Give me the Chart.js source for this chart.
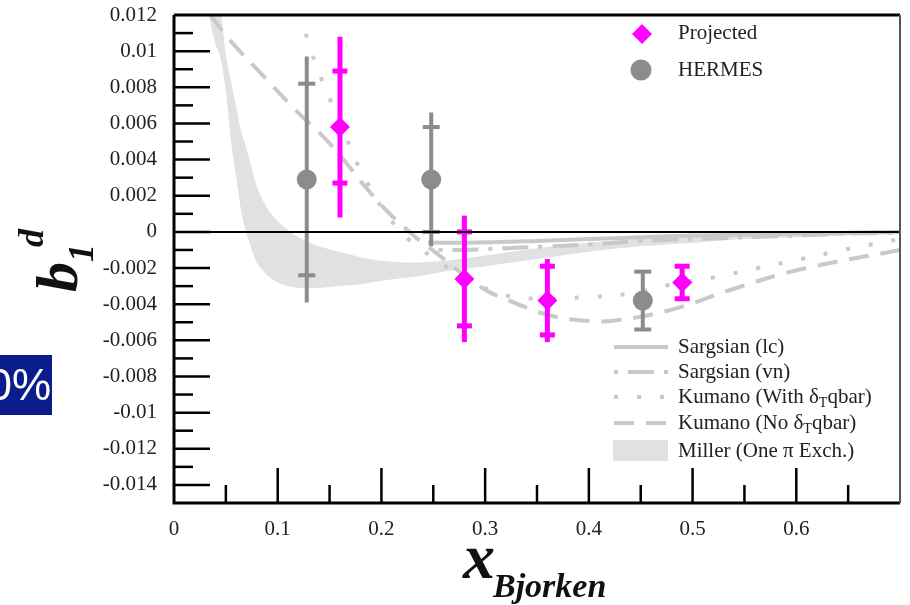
<!DOCTYPE html>
<html>
<head>
<meta charset="utf-8">
<script src="https://cdn.jsdelivr.net/npm/chart.js@4.4.1/dist/chart.umd.min.js"></script>
<style>
  html, body { margin: 0; padding: 0; background: #fff; }
  #wrap { width: 910px; height: 605px; position: relative; }
</style>
</head>
<body>
<div id="wrap"><canvas id="c"></canvas></div>
<script>
/* ---------- data ---------- */
// Projected (magenta diamonds)
const PROJ_X   = [0.16, 0.28, 0.36, 0.49];
const PROJ_Y   = [0.0058, -0.0026, -0.0038, -0.0028];
const PROJ_ERR = [0.0050, 0.0035, 0.0023, 0.0010];   // full bar
const PROJ_CAP = [0.0031, 0.0026, 0.0019, 0.0009];   // inner cross bars

// HERMES (grey circles)
const HERMES_X   = [0.128, 0.248, 0.452];
const HERMES_Y   = [0.0029, 0.0029, -0.0038];
const HERMES_ERR = [0.0068, 0.0037, 0.0016];
const HERMES_CAP = [0.0053, 0.0029, 0.0016];

// theory curves
const SARG_LC_X = [0.245, 0.28, 0.35, 0.40, 0.45, 0.50, 0.55, 0.60, 0.65, 0.70];
const SARG_LC_Y = [-0.0006, -0.0006, -0.0005, -0.0004, -0.0003, -0.0002, -0.00015, -0.0001, -0.00005, 0];

const SARG_VN_X = [0.255, 0.28, 0.32, 0.36, 0.40, 0.45, 0.50, 0.55, 0.60, 0.65, 0.70];
const SARG_VN_Y = [-0.0010, -0.0010, -0.0009, -0.0008, -0.0007, -0.0005, -0.0004, -0.0003, -0.0002, -0.0001, -0.00005];

const KUM_WITH_X = [0.122, 0.13, 0.142, 0.162, 0.181, 0.214, 0.249, 0.28, 0.313, 0.35, 0.40, 0.441, 0.48, 0.522, 0.563, 0.605, 0.645, 0.70];
const KUM_WITH_Y = [0.0122, 0.0104, 0.0085, 0.0058, 0.0033, 0.0003, -0.0014, -0.0025, -0.0034, -0.0037, -0.0036, -0.0034, -0.0029, -0.0025, -0.0020, -0.0015, -0.0010, -0.0004];

const KUM_NO_X = [0.035, 0.054, 0.08, 0.118, 0.15, 0.198, 0.229, 0.249, 0.297, 0.323, 0.361, 0.393, 0.425, 0.48, 0.537, 0.602, 0.70];
const KUM_NO_Y = [0.0120, 0.0106, 0.0090, 0.0067, 0.0049, 0.0016, -0.0001, -0.0010, -0.0031, -0.0038, -0.0046, -0.0049, -0.0049, -0.0043, -0.0032, -0.0021, -0.0010];

// Miller band (one pion exchange)
const MILLER_X  = [0.03, 0.035, 0.04, 0.045, 0.05, 0.055, 0.06, 0.065, 0.07, 0.08, 0.09, 0.10, 0.11, 0.12, 0.14, 0.16, 0.18, 0.20, 0.23, 0.26, 0.30, 0.35, 0.40, 0.45, 0.50, 0.55, 0.60, 0.65, 0.70];
const MILLER_LO = [0.0135, 0.0116, 0.0104, 0.0096, 0.0078, 0.0050, 0.0030, 0.0011, -0.0001, -0.0017, -0.0024, -0.0028, -0.0030, -0.0031, -0.0031, -0.0030, -0.0029, -0.0027, -0.0025, -0.0022, -0.0019, -0.0015, -0.0011, -0.0008, -0.0006, -0.0004, -0.0003, -0.0002, -0.0001];
const MILLER_HI = [0.020, 0.018, 0.016, 0.0125, 0.0098, 0.0083, 0.0069, 0.0055, 0.0046, 0.0025, 0.0013, 0.0006, 0.0001, -0.0003, -0.0008, -0.0011, -0.0014, -0.0016, -0.0017, -0.0016, -0.0013, -0.0009, -0.0006, -0.0004, -0.0002, -0.0001, -0.0001, 0, 0];

/* ---------- style ---------- */
const MAGENTA = '#ff00ff';
const HGREY   = '#8c8c8c';
const LGREY   = '#c9c9c9';
const BAND    = '#e1e1e1';
const SERIF   = '"Liberation Serif", "Times New Roman", serif';

const pts = (xs, ys) => xs.map((x, i) => ({ x, y: ys[i] }));

/* ---------- plugins ---------- */
// error bars: drawn just before the marker dataset so markers sit on top
const errorBars = {
  id: 'errorBars',
  beforeDatasetDraw(chart, args) {
    const ds = chart.data.datasets[args.index];
    if (!ds.errTotal) return;
    const { ctx, scales: { x, y } } = chart;
    ctx.save();
    ctx.strokeStyle = ds.backgroundColor;
    ctx.lineCap = 'butt';
    ds.data.forEach((p, i) => {
      const px = x.getPixelForValue(p.x);
      const t = y.getPixelForValue(p.y + ds.errTotal[i]);
      const b = y.getPixelForValue(p.y - ds.errTotal[i]);
      ctx.lineWidth = ds.barWidth;
      ctx.beginPath();
      ctx.moveTo(px, t); ctx.lineTo(px, b);
      ctx.stroke();
      [p.y + ds.errCap[i], p.y - ds.errCap[i]].forEach(v => {
        const py = y.getPixelForValue(v);
        ctx.beginPath();
        ctx.moveTo(px - ds.capWidth / 2, py); ctx.lineTo(px + ds.capWidth / 2, py);
        ctx.stroke();
      });
    });
    ctx.restore();
  }
};

// frame, inward ticks, zero line
const frame = {
  id: 'frame',
  afterDatasetsDraw(chart) {
    const { ctx, chartArea: a, scales: { x, y } } = chart;
    ctx.save();
    // zero line on top of everything
    const y0 = y.getPixelForValue(0);
    ctx.strokeStyle = '#000';
    ctx.lineWidth = 2;
    ctx.beginPath(); ctx.moveTo(a.left, y0); ctx.lineTo(a.right, y0); ctx.stroke();

    // ticks
    ctx.lineWidth = 2.5;
    y.ticks.forEach(t => {
      const r = Math.round(t.value * 1000);
      if (r <= -15 || r >= 12) return;
      const len = r % 2 === 0 ? 36 : 19;
      const py = y.getPixelForValue(t.value);
      ctx.beginPath(); ctx.moveTo(a.left, py); ctx.lineTo(a.left + len, py); ctx.stroke();
    });
    x.ticks.forEach(t => {
      const r = Math.round(t.value * 100);
      if (r <= 0 || r >= 70) return;
      const len = r % 10 === 0 ? 35 : 18;
      const px = x.getPixelForValue(t.value);
      ctx.beginPath(); ctx.moveTo(px, a.bottom); ctx.lineTo(px, a.bottom - len); ctx.stroke();
    });

    // box
    ctx.lineWidth = 3;
    ctx.beginPath();
    ctx.moveTo(a.left, a.top); ctx.lineTo(a.right, a.top);
    ctx.moveTo(a.left, a.top); ctx.lineTo(a.left, a.bottom); ctx.lineTo(a.right, a.bottom);
    ctx.stroke();
    ctx.strokeStyle = '#555';
    ctx.lineWidth = 2;
    ctx.beginPath(); ctx.moveTo(a.right, a.top); ctx.lineTo(a.right, a.bottom); ctx.stroke();
    ctx.restore();
  }
};

// legends, axis titles, stray slide box
const annotations = {
  id: 'annotations',
  afterDraw(chart) {
    const ctx = chart.ctx;
    const ds = chart.data.datasets;
    ctx.save();

    // top legend (markers)
    ctx.fillStyle = MAGENTA;
    ctx.beginPath();
    ctx.moveTo(642, 24); ctx.lineTo(652, 34); ctx.lineTo(642, 44); ctx.lineTo(632, 34);
    ctx.closePath(); ctx.fill();
    ctx.fillStyle = HGREY;
    ctx.beginPath(); ctx.arc(641, 70, 10.5, 0, Math.PI * 2); ctx.fill();

    ctx.font = '21px ' + SERIF;
    ctx.fillStyle = '#222';
    ctx.textBaseline = 'middle';
    ctx.fillText('Projected', 678, 33);
    ctx.fillText('HERMES', 678, 70);

    // bottom legend (theory)
    const rows = [
      { ds: ds[2], y: 347, parts: [['Sargsian (lc)']] },
      { ds: ds[3], y: 372, parts: [['Sargsian (vn)']] },
      { ds: ds[4], y: 397, parts: [['Kumano (With δ'], ['T', 1], ['qbar)']] },
      { ds: ds[5], y: 423, parts: [['Kumano (No δ'], ['T', 1], ['qbar)']] },
    ];
    rows.forEach(row => {
      ctx.strokeStyle = row.ds.borderColor;
      ctx.lineWidth = row.ds.borderWidth;
      ctx.setLineDash(row.ds.borderDash || []);
      ctx.beginPath(); ctx.moveTo(614, row.y); ctx.lineTo(668, row.y); ctx.stroke();
      ctx.setLineDash([]);
      let tx = 678;
      row.parts.forEach(([s, sub]) => {
        ctx.font = (sub ? '14px ' : '21px ') + SERIF;
        ctx.fillText(s, tx, row.y + (sub ? 6 : 0));
        tx += ctx.measureText(s).width;
      });
    });
    ctx.fillStyle = BAND;
    ctx.fillRect(613, 440, 55, 21);
    ctx.fillStyle = '#222';
    ctx.font = '21px ' + SERIF;
    ctx.fillText('Miller (One π Exch.)', 678, 451);

    // x title
    ctx.fillStyle = '#111';
    ctx.textBaseline = 'alphabetic';
    ctx.font = 'bold italic 64px ' + SERIF;
    ctx.fillText('x', 463, 578);
    ctx.font = 'bold italic 34px ' + SERIF;
    ctx.fillText('Bjorken', 493, 597);

    // y title  b_1^d (rotated)
    ctx.save();
    ctx.translate(77, 292);
    ctx.rotate(-Math.PI / 2);
    ctx.font = 'bold italic 60px ' + SERIF;
    ctx.fillText('b', 0, 0);
    ctx.font = 'bold italic 36px ' + SERIF;
    ctx.fillText('1', 30, 16);
    ctx.fillText('d', 45, -34);
    ctx.restore();

    // stray box from the slide
    ctx.fillStyle = '#0b1c8c';
    ctx.fillRect(0, 355, 52, 60);
    ctx.fillStyle = '#fff';
    ctx.font = '44px "Liberation Sans", sans-serif';
    ctx.textAlign = 'right';
    ctx.fillText('0%', 51, 400);
    ctx.restore();
  }
};

/* ---------- chart ---------- */
new Chart(document.getElementById('c'), {
  type: 'scatter',
  data: {
    datasets: [
      { label: 'Projected', data: pts(PROJ_X, PROJ_Y), pointStyle: 'rectRot', pointRadius: 10,
        backgroundColor: MAGENTA, borderWidth: 0, order: 1,
        errTotal: PROJ_ERR, errCap: PROJ_CAP, barWidth: 5, capWidth: 15 },
      { label: 'HERMES', data: pts(HERMES_X, HERMES_Y), pointStyle: 'circle', pointRadius: 10,
        backgroundColor: HGREY, borderWidth: 0, order: 2,
        errTotal: HERMES_ERR, errCap: HERMES_CAP, barWidth: 4, capWidth: 17 },
      { type: 'line', label: 'Sargsian (lc)', data: pts(SARG_LC_X, SARG_LC_Y),
        borderColor: LGREY, borderWidth: 4, pointRadius: 0, tension: 0.4, order: 5 },
      { type: 'line', label: 'Sargsian (vn)', data: pts(SARG_VN_X, SARG_VN_Y),
        borderColor: LGREY, borderWidth: 4, borderDash: [4, 10, 26, 10], pointRadius: 0, tension: 0.4, order: 6 },
      { type: 'line', label: 'Kumano (With dTqbar)', data: pts(KUM_WITH_X, KUM_WITH_Y),
        borderColor: LGREY, borderWidth: 4, borderDash: [4, 19], pointRadius: 0, tension: 0.4, order: 7 },
      { type: 'line', label: 'Kumano (No dTqbar)', data: pts(KUM_NO_X, KUM_NO_Y),
        borderColor: LGREY, borderWidth: 4, borderDash: [20, 12], pointRadius: 0, tension: 0.4, order: 8 },
      { type: 'line', label: 'Miller hi', data: pts(MILLER_X, MILLER_HI),
        borderColor: 'rgba(0,0,0,0)', borderWidth: 0, pointRadius: 0, tension: 0.3,
        backgroundColor: BAND, fill: { target: 7 }, order: 10 },
      { type: 'line', label: 'Miller lo', data: pts(MILLER_X, MILLER_LO),
        borderColor: 'rgba(0,0,0,0)', borderWidth: 0, pointRadius: 0, tension: 0.3, fill: false, order: 11 },
    ]
  },
  options: {
    responsive: true,
    maintainAspectRatio: false,
    animation: false,
    layout: { padding: { top: 15, right: 8, left: 0, bottom: 0 } },
    plugins: { legend: { display: false }, tooltip: { enabled: false } },
    scales: {
      x: {
        type: 'linear', min: 0, max: 0.7,
        grid: { display: false, drawTicks: false }, border: { display: false },
        afterFit: s => { s.height = 102; s.paddingLeft = 0; s.paddingRight = 0; },
        ticks: {
          stepSize: 0.05, autoSkip: false, maxRotation: 0, maxTicksLimit: 100, padding: 14,
          color: '#222', font: { family: SERIF, size: 21 },
          callback: v => {
            const r = Math.round(v * 100);
            return (r % 10 !== 0 || r >= 70) ? '' : String(r / 100);
          }
        }
      },
      y: {
        type: 'linear', min: -0.015, max: 0.012,
        grid: { display: false, drawTicks: false }, border: { display: false },
        afterFit: s => { s.width = 174; s.paddingTop = 0; s.paddingBottom = 0; },
        ticks: {
          stepSize: 0.001, autoSkip: false, maxTicksLimit: 100, padding: 17,
          color: '#222', font: { family: SERIF, size: 21 },
          callback: v => {
            const r = Math.round(v * 1000);
            return (r % 2 !== 0 || r <= -15) ? '' : String(r / 1000);
          }
        }
      }
    }
  },
  plugins: [errorBars, frame, annotations]
});
</script>
</body>
</html>
